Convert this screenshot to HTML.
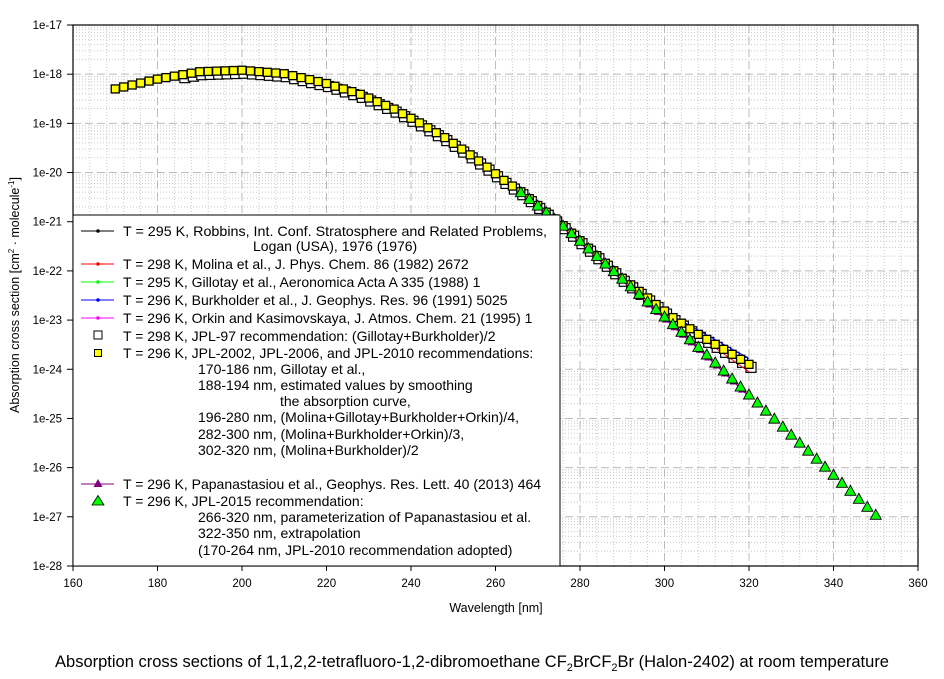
<!DOCTYPE html>
<html><head><meta charset="utf-8"><style>
html,body{margin:0;padding:0;background:#fff;}
svg{display:block;font-family:"Liberation Sans",Arial,sans-serif;}
</style></head><body>
<svg id="s" width="944" height="679" viewBox="0 0 944 679" xmlns="http://www.w3.org/2000/svg">
<rect width="944" height="679" fill="#fff"/>
<g id="grid"></g>
<g id="data"></g>
<g id="frame"></g>
<g id="legend" font-size="14" fill="#000">
<rect x="73" y="215" width="487" height="351" fill="#fff" stroke="#000" stroke-width="1"/>
<line x1="81" y1="231" x2="114" y2="231" stroke="#000"/><circle cx="98" cy="231" r="1.8" fill="#000"/>
<text x="123" y="236" textLength="424" lengthAdjust="spacingAndGlyphs">T = 295 K, Robbins, Int. Conf. Stratosphere and Related Problems,</text>
<text x="253" y="251">Logan (USA), 1976 (1976)</text>
<line x1="81" y1="264" x2="114" y2="264" stroke="#f00"/><circle cx="98" cy="264" r="1.8" fill="#f00"/>
<text x="123" y="269">T = 298 K, Molina et al., J. Phys. Chem. 86 (1982) 2672</text>
<line x1="81" y1="282" x2="114" y2="282" stroke="#0f0"/><circle cx="98" cy="282" r="1.8" fill="#0f0"/>
<text x="123" y="287">T = 295 K, Gillotay et al., Aeronomica Acta A 335 (1988) 1</text>
<line x1="81" y1="300" x2="114" y2="300" stroke="#00f"/><circle cx="98" cy="300" r="1.8" fill="#00f"/>
<text x="123" y="305">T = 296 K, Burkholder et al., J. Geophys. Res. 96 (1991) 5025</text>
<line x1="81" y1="318" x2="114" y2="318" stroke="#f0f"/><circle cx="98" cy="318" r="1.8" fill="#f0f"/>
<text x="123" y="323">T = 296 K, Orkin and Kasimovskaya, J. Atmos. Chem. 21 (1995) 1</text>
<rect x="94" y="331" width="8" height="8" fill="#fff" stroke="#000"/>
<text x="123" y="341">T = 298 K, JPL-97 recommendation: (Gillotay+Burkholder)/2</text>
<rect x="94.5" y="349.5" width="7" height="7" fill="#ff0" stroke="#000"/>
<text x="123" y="358">T = 296 K, JPL-2002, JPL-2006, and JPL-2010 recommendations:</text>
<text x="198" y="374">170-186 nm, Gillotay et al.,</text>
<text x="198" y="390">188-194 nm, estimated values by smoothing</text>
<text x="280" y="406">the absorption curve,</text>
<text x="198" y="422">196-280 nm, (Molina+Gillotay+Burkholder+Orkin)/4,</text>
<text x="198" y="439">282-300 nm, (Molina+Burkholder+Orkin)/3,</text>
<text x="198" y="455">302-320 nm, (Molina+Burkholder)/2</text>
<line x1="81" y1="484" x2="114" y2="484" stroke="#800080"/><polygon points="98,479 102.5,487 93.5,487" fill="#800080"/>
<text x="123" y="489">T = 296 K, Papanastasiou et al., Geophys. Res. Lett. 40 (2013) 464</text>
<polygon points="98,495.5 104,505 92,505" fill="#0f0" stroke="#000" stroke-width="0.8"/>
<text x="123" y="506">T = 296 K, JPL-2015 recommendation:</text>
<text x="198" y="522">266-320 nm, parameterization of Papanastasiou et al.</text>
<text x="198" y="538">322-350 nm, extrapolation</text>
<text x="198" y="555">(170-264 nm, JPL-2010 recommendation adopted)</text>
</g>
<g id="labels" font-size="11.5" fill="#000"></g>
<text x="496" y="612" font-size="12.5" text-anchor="middle">Wavelength [nm]</text>
<text transform="translate(19,295) rotate(-90)" font-size="12.5" text-anchor="middle">Absorption cross section [cm<tspan font-size="8" dy="-5">2</tspan><tspan dy="5"> · molecule</tspan><tspan font-size="8" dy="-5">-1</tspan><tspan dy="5">]</tspan></text>
<text x="472" y="667" font-size="16.5" text-anchor="middle">Absorption cross sections of 1,1,2,2-tetrafluoro-1,2-dibromoethane CF<tspan font-size="11" dy="4">2</tspan><tspan dy="-4">BrCF</tspan><tspan font-size="11" dy="4">2</tspan><tspan dy="-4">Br (Halon-2402) at room temperature</tspan></text>
</svg>
<script>
(function(){
var NS="http://www.w3.org/2000/svg";
function X(nm){return 73+(nm-160)*4.225;}
function Y(l){return 25-(l+17)*49.18;}
function el(p,t,a){var e=document.createElementNS(NS,t);for(var k in a)e.setAttribute(k,a[k]);p.appendChild(e);return e;}
var g=document.getElementById('grid'),d=document.getElementById('data'),f=document.getElementById('frame'),lb=document.getElementById('labels');
var L=73,R=918,T=25,B=566;
for(var nm=164;nm<360;nm+=4){if(nm%20==0)continue;el(g,'line',{x1:X(nm),x2:X(nm),y1:T,y2:B,stroke:'#c8c8c8','stroke-dasharray':'1,2'});}
for(var dec=-28;dec<-17;dec++){for(var m=2;m<10;m++){var y=Y(dec+Math.log10(m));el(g,'line',{x1:L,x2:R,y1:y,y2:y,stroke:'#c8c8c8','stroke-dasharray':'1,2'});}}
for(var nm=180;nm<360;nm+=20)el(g,'line',{x1:X(nm),x2:X(nm),y1:T,y2:B,stroke:'#bbb','stroke-dasharray':'8,4'});
for(var dec=-27;dec<-17;dec++){var y=Y(dec);el(g,'line',{x1:L,x2:R,y1:y,y2:y,stroke:'#bbb','stroke-dasharray':'8,4'});}
el(f,'rect',{x:L,y:T,width:R-L,height:B-T,fill:'none',stroke:'#000','stroke-width':1.2});
for(var nm=160;nm<=360;nm+=20){el(f,'line',{x1:X(nm),x2:X(nm),y1:B,y2:B+5,stroke:'#000'});var t=el(lb,'text',{x:X(nm),y:587,'text-anchor':'middle'});t.textContent=nm;}
for(var dec=-28;dec<=-17;dec++){var y=Y(dec);el(f,'line',{x1:L-6,x2:L,y1:y,y2:y,stroke:'#000'});var t=el(lb,'text',{x:62,y:y+4,'text-anchor':'end'});t.textContent='1e'+dec;}
function interp(tb,x){for(var i=0;i<tb.length-1;i++){if(x<=tb[i+1][0]){var a=tb[i],b=tb[i+1];return a[1]+(b[1]-a[1])*(x-a[0])/(b[0]-a[0]);}}return tb[tb.length-1][1];}
var ytb=[[170,-18.30],[180,-18.10],[190,-17.95],[200,-17.92],[210,-17.99],[220,-18.19],[228,-18.41],[236,-18.71],[242,-18.99],[248,-19.29],[254,-19.64],[258,-19.89],[262,-20.16],[266,-20.39],[270,-20.67],[276,-21.08],[290,-22.15],[302,-22.95],[308,-23.29],[320,-23.90]];
var gtb=[[266,-20.40],[276,-21.08],[310,-23.70],[350,-26.96]];
for(var nm=186;nm<=320;nm+=2){var x=X(nm)+2,y=Y(interp(ytb,nm))+3;el(d,'rect',{x:x-5,y:y-5,width:10,height:10,fill:'#fff',stroke:'#000','stroke-width':1.2});}
function poly(tb,from,to,off,col){var p=[];for(var nm=from;nm<=to;nm+=2)p.push(X(nm)+','+(Y(interp(tb,nm))+off));el(d,'polyline',{points:p.join(' '),fill:'none',stroke:col,'stroke-width':1});}
poly(ytb,186,320,0,'#f0f');poly(ytb,186,300,1,'#0f0');
var btb=ytb.slice(0,17).concat([[302,-22.92],[320,-23.78]]);poly(btb,190,320,0,'#00f');
var rtb=ytb.slice(0,17).concat([[306,-23.2],[320,-24.05]]);poly(rtb,190,320,0,'#f00');
for(var nm=170;nm<=320;nm+=2){var x=X(nm),y=Y(interp(ytb,nm));el(d,'rect',{x:x-4,y:y-4,width:8,height:8,fill:'#ff0',stroke:'#000','stroke-width':1.3});}
var pp=[];for(var nm=266;nm<=320;nm+=2){var x=X(nm),y=Y(interp(gtb,nm))+2;pp.push(x+','+y);}
el(d,'polyline',{points:pp.join(' '),fill:'none',stroke:'#800080','stroke-width':1});
for(var nm=296;nm<=318;nm+=2){var x=X(nm)+2,y=Y(interp(gtb,nm))+3;el(d,'polygon',{points:(x)+','+(y-4)+' '+(x+4.5)+','+(y+3)+' '+(x-4.5)+','+(y+3),fill:'#800080'});}
for(var nm=266;nm<=350;nm+=2){var x=X(nm),y=Y(interp(gtb,nm));el(d,'polygon',{points:x+','+(y-5.5)+' '+(x+5.5)+','+(y+4.5)+' '+(x-5.5)+','+(y+4.5),fill:'#0f0',stroke:'#000','stroke-width':0.9});}
})();
</script>
</body></html>
